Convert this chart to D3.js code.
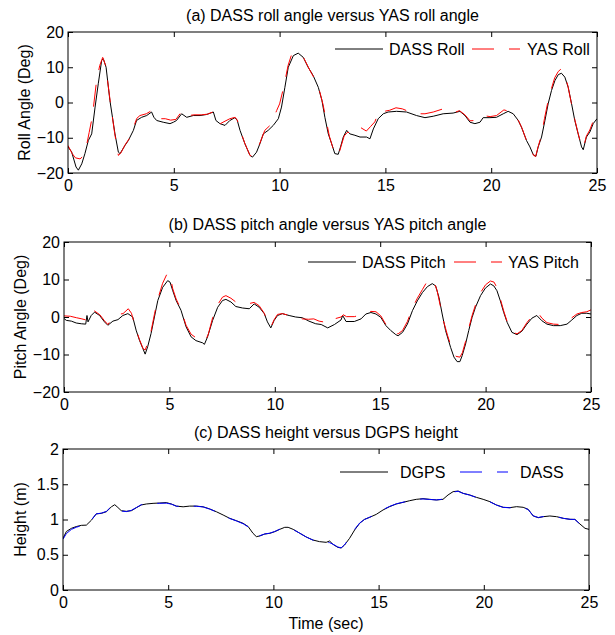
<!DOCTYPE html>
<html lang="en">
<head>
  <meta charset="UTF-8">
  <title>DASS vs YAS / DGPS</title>
  <script src="https://d3js.org/d3.v7.min.js"></script>
  <style>
    body { margin: 0; background: #fff; }
    svg text { font-family: "Liberation Sans", Arial, sans-serif; fill: #000; }
    .tick text { font-size: 16px; }
    .tick line { stroke: #000; }
  </style>
</head>
<body>
  <svg width="615" height="635"></svg>

  <script>
    // ---- data (time in sec, value) ----
    const timeTicks = [0, 5, 10, 15, 20, 25];
    const angleTicks = [-20, -10, 0, 10, 20];
    const heightTicks = [0, 0.5, 1, 1.5, 2];

    const dassRoll = [[0,-12.6],[0.17,-14],[0.38,-18.3],[0.49,-19.2],[0.65,-17.4],[0.8,-14.5],[0.96,-10.8],[1.12,-8.9],[1.28,-1.3],[1.43,5.3],[1.59,11.9],[1.67,12.4],[1.8,10],[1.98,0.6],[2.22,-8.9],[2.38,-14.1],[2.46,-14.5],[2.69,-12.2],[2.85,-10.8],[3.09,-7.9],[3.24,-5.1],[3.48,-4.2],[3.72,-3.7],[3.95,-2.7],[4.06,-4.2],[4.19,-5.1],[4.5,-5.6],[4.82,-6],[4.98,-5.6],[5.13,-5.1],[5.37,-3.2],[5.61,-4.2],[5.92,-3.7],[6.24,-3.7],[6.55,-3.4],[6.87,-2.7],[6.99,-5.1],[7.18,-6],[7.42,-6.5],[7.65,-5.1],[7.89,-4.3],[8.0,-5.1],[8.13,-7.9],[8.36,-11.7],[8.6,-15],[8.72,-15.5],[8.91,-14.1],[9.07,-11.7],[9.23,-8.9],[9.46,-7.9],[9.7,-6.5],[9.94,-4.6],[10.09,-1.3],[10.25,4.3],[10.41,10],[10.65,13.3],[10.88,14],[11.12,12.8],[11.35,10],[11.59,7.6],[11.83,4.3],[12.0,0.6],[12.14,-4.2],[12.3,-8.9],[12.46,-11.7],[12.61,-14.5],[12.77,-14.7],[12.88,-12.6],[13.01,-9.8],[13.17,-7.9],[13.32,-8.9],[13.56,-9.3],[13.8,-9.8],[14.11,-9.8],[14.27,-10.3],[14.43,-7.5],[14.66,-4.6],[14.9,-3.2],[15.13,-2.7],[15.53,-2.5],[16.0,-2.7],[16.47,-3.7],[16.87,-4.3],[17.26,-3.9],[17.73,-3.2],[18.2,-3],[18.52,-2.5],[18.76,-3.7],[19.0,-5.6],[19.23,-6],[19.47,-5.6],[19.62,-4.3],[19.94,-4.3],[20.25,-4.2],[20.57,-3.2],[20.8,-2.5],[21.04,-3.2],[21.28,-5.1],[21.43,-7],[21.67,-10.8],[21.83,-12.6],[21.98,-14.7],[22.11,-15.3],[22.22,-12.6],[22.38,-9.8],[22.54,-5.1],[22.69,-0.4],[22.85,3.4],[23.01,6.2],[23.17,7.9],[23.32,8.3],[23.48,7.2],[23.64,4.3],[23.8,-0.4],[23.95,-5.1],[24.11,-8.9],[24.27,-12.6],[24.35,-13.4],[24.5,-9.8],[24.66,-8.4],[24.82,-6],[25,-4.6]];

    const yasRoll = [[0,-12.2],[0.2,-14.5],[0.35,-15.7],[0.57,-16],[0.7,-15.3],[0.85,-13],[1.0,-8.5],[1.15,-4],[1.35,6.2],[1.5,10.5],[1.64,12.8],[1.78,10.5],[1.98,1],[2.2,-8.5],[2.38,-15],[2.5,-14.3],[2.7,-12],[2.9,-10.2],[3.1,-7],[3.25,-4.5],[3.4,-3.7],[3.7,-3.2],[3.95,-2.3],[4.1,-3.8],[4.3,-4.6],[4.6,-4.6],[4.85,-5],[5.1,-4.8],[5.4,-2.3],[5.6,-3.8],[5.95,-3.5],[6.3,-3.5],[6.6,-3.3],[6.88,-2.6],[7.0,-4.8],[7.2,-6],[7.42,-5.3],[7.65,-4.6],[7.9,-4.2],[8.0,-5],[8.15,-8],[8.35,-11.5],[8.6,-15],[8.72,-15.3],[8.9,-14],[9.07,-11.5],[9.3,-7.9],[9.55,-6.5],[9.7,-4.6],[9.86,-2.3],[10.0,-0.4],[10.2,4.5],[10.4,10.5],[10.55,13.3],[10.72,14.2],[10.9,14],[11.15,12.5],[11.4,9.5],[11.7,6.2],[11.9,3],[12.05,-0.5],[12.2,-5],[12.35,-9.5],[12.5,-12.5],[12.65,-15],[12.78,-15],[12.9,-12.5],[13.05,-9.5],[13.2,-8.5],[13.4,-8.5],[13.6,-8.6],[13.8,-7],[14.1,-8.1],[14.3,-6.8],[14.5,-5.5],[14.7,-2.3],[14.95,-2.5],[15.2,-2.2],[15.5,-1.5],[15.8,-1.8],[16.0,-2.3],[16.4,-3.2],[16.87,-3.2],[17.26,-2.7],[17.73,-1.8],[18.0,-2.5],[18.2,-3],[18.5,-2.3],[18.76,-3.5],[19.0,-5.2],[19.23,-5.1],[19.45,-4.6],[19.6,-3.7],[19.95,-4],[20.25,-3.7],[20.6,-2.1],[20.85,-2.5],[21.05,-3.2],[21.3,-5.3],[21.45,-7.2],[21.65,-10.5],[21.85,-13],[22.0,-15],[22.1,-15.3],[22.22,-12.5],[22.38,-9.2],[22.52,-4.5],[22.68,0.2],[22.85,4],[23.0,7],[23.17,8.8],[23.3,9.5],[23.45,8.3],[23.62,4.8],[23.78,0],[23.95,-4.8],[24.1,-8.6],[24.27,-12.5],[24.35,-13],[24.5,-9.5],[24.66,-7.8],[24.82,-5.3],[25,-4]];

    const dassPitch = [[0,-0.4],[0.11,-0.9],[0.35,-1.1],[0.58,-1.6],[0.82,-1.8],[1.03,-1.9],[1.09,0.4],[1.14,-1.3],[1.29,0.4],[1.45,1.3],[1.69,0.4],[1.92,-1.3],[2.08,-2.2],[2.32,-1.1],[2.56,-0.7],[2.79,0.4],[3.03,0.9],[3.26,0],[3.42,-3.5],[3.58,-6.2],[3.74,-8.4],[3.85,-9.9],[3.97,-7.9],[4.13,-4.4],[4.29,0],[4.45,4.4],[4.68,7.9],[4.92,9.7],[5.03,9.3],[5.16,7],[5.32,4.4],[5.55,1.8],[5.79,-2.6],[6.03,-5.3],[6.26,-6.3],[6.58,-6.9],[6.66,-7.3],[6.81,-5.3],[7.05,-0.9],[7.29,2.6],[7.52,4.4],[7.68,4.7],[7.92,4],[8.15,2.8],[8.47,2.4],[8.79,2.2],[9.02,3.5],[9.26,2.6],[9.5,0.9],[9.65,-1.3],[9.81,-2.9],[9.97,-0.9],[10.13,0.4],[10.36,0.9],[10.68,0.4],[10.99,0],[11.31,-0.2],[11.62,-1.1],[11.94,-1.8],[12.2,-2],[12.51,-2.9],[12.83,-2],[13.14,-0.8],[13.22,0.4],[13.38,-1.2],[13.77,-1.2],[14.09,-0.5],[14.32,0.8],[14.56,1.2],[14.8,0.8],[15.03,-0.1],[15.27,-2.3],[15.5,-3.6],[15.74,-4.7],[15.85,-5],[16.06,-4.1],[16.29,-1.9],[16.53,1.7],[16.76,4.3],[17.0,6.5],[17.24,8.1],[17.47,8.9],[17.63,8.3],[17.79,5.2],[17.94,0.8],[18.1,-3.6],[18.34,-8.1],[18.5,-10.7],[18.65,-11.9],[18.78,-11.9],[18.89,-10.3],[19.05,-7.2],[19.2,-3.6],[19.36,-0.1],[19.52,2.6],[19.76,5.7],[19.99,7.7],[20.23,8.8],[20.39,8.3],[20.54,7],[20.7,4.3],[20.86,1.2],[21.02,-1.4],[21.25,-4.1],[21.49,-4.7],[21.72,-3.8],[21.96,-1.9],[22.2,-0.3],[22.43,0.4],[22.67,-1],[22.91,-1.9],[23.22,-2.3],[23.54,-2.3],[23.86,-1.9],[24.09,-0.8],[24.33,0.4],[24.56,1],[24.8,1],[25,0.8]];

    const yasPitch = [[0,0.3],[0.3,0.2],[0.6,-0.2],[0.85,-0.5],[1.05,-0.8],[1.2,0.5],[1.3,1.9],[1.45,1.6],[1.7,0.6],[1.92,-1],[2.08,-2],[2.3,-0.3],[2.56,0.7],[2.8,0.9],[3.05,2.2],[3.2,1],[3.4,-3],[3.58,-6],[3.75,-8.4],[3.85,-8.8],[3.97,-7],[4.13,-3.8],[4.3,1],[4.45,4.8],[4.68,9],[4.92,11.9],[5.05,10.5],[5.16,7.5],[5.32,4.8],[5.55,2],[5.79,-2.2],[6.03,-4.6],[6.25,-5.5],[6.58,-6],[6.7,-6.5],[6.85,-4.5],[7.05,-0.2],[7.29,3.3],[7.52,5.3],[7.68,5.7],[7.92,5],[8.15,4],[8.5,3.7],[8.8,3.6],[9.02,3.9],[9.26,3],[9.5,1],[9.65,-1],[9.81,-2.7],[9.97,-0.7],[10.13,0.7],[10.36,0.9],[10.68,0.4],[11.0,0.1],[11.3,-0.5],[11.6,-0.6],[11.85,-0.5],[12.1,-1.1],[12.4,-1.4],[12.6,-1.8],[12.83,-0.5],[13.14,0],[13.25,0.6],[13.4,0.1],[13.77,0.1],[14.09,0.5],[14.32,1.2],[14.56,1.5],[14.8,1.4],[15.03,0.3],[15.27,-2],[15.5,-3.4],[15.74,-4.3],[15.85,-4.5],[16.06,-3.6],[16.29,-1.2],[16.53,2.4],[16.76,5],[17.0,7.3],[17.24,9.6],[17.4,10.2],[17.55,9.5],[17.7,7],[17.85,3],[18.0,-1],[18.2,-5],[18.4,-8.5],[18.6,-10.5],[18.78,-10.7],[18.9,-9.5],[19.05,-6.5],[19.2,-3],[19.36,0.4],[19.52,3.2],[19.76,6.5],[20.0,8.6],[20.23,9.6],[20.4,9.3],[20.54,7.8],[20.7,4.8],[20.86,1.6],[21.02,-1.2],[21.25,-4],[21.49,-4.5],[21.72,-3.6],[21.96,-1.5],[22.2,0.2],[22.45,1.4],[22.67,-0.3],[22.91,-1.5],[23.22,-1.9],[23.54,-2],[23.86,-0.8],[24.09,-0.2],[24.33,0.8],[24.56,1.2],[24.8,1.4],[25,1.9]];

    const dgpsHeight = [[0,0.733],[0.16,0.83],[0.4,0.875],[0.63,0.9],[0.87,0.917],[1.11,0.92],[1.35,0.99],[1.58,1.08],[1.82,1.087],[2.06,1.11],[2.3,1.18],[2.46,1.21],[2.61,1.17],[2.77,1.125],[3.01,1.116],[3.25,1.125],[3.49,1.168],[3.72,1.206],[3.96,1.22],[4.28,1.229],[4.6,1.234],[4.91,1.24],[5.15,1.22],[5.39,1.19],[5.71,1.18],[6.02,1.19],[6.34,1.19],[6.66,1.18],[6.97,1.15],[7.29,1.11],[7.61,1.064],[7.92,1.017],[8.24,0.983],[8.56,0.946],[8.8,0.9],[9.03,0.804],[9.19,0.757],[9.35,0.766],[9.59,0.794],[9.83,0.804],[10.06,0.827],[10.3,0.86],[10.54,0.889],[10.7,0.889],[10.94,0.86],[11.25,0.806],[11.56,0.752],[11.88,0.709],[12.19,0.686],[12.51,0.676],[12.67,0.695],[12.83,0.648],[13.06,0.605],[13.22,0.596],[13.38,0.638],[13.62,0.733],[13.86,0.851],[14.1,0.946],[14.33,1.002],[14.57,1.03],[14.89,1.073],[15.21,1.135],[15.52,1.182],[15.84,1.22],[16.16,1.243],[16.48,1.267],[16.79,1.286],[17.11,1.295],[17.43,1.286],[17.75,1.277],[18.06,1.286],[18.3,1.348],[18.54,1.395],[18.78,1.404],[19.02,1.371],[19.33,1.348],[19.65,1.314],[19.97,1.286],[20.29,1.253],[20.6,1.206],[20.92,1.173],[21.24,1.168],[21.56,1.182],[21.87,1.173],[22.11,1.144],[22.35,1.05],[22.59,1.026],[22.83,1.04],[23.14,1.05],[23.46,1.04],[23.78,1.017],[24.1,1.002],[24.33,1.002],[24.57,0.936],[24.81,0.875],[25,0.86]];

    const dassHeight = [[0,0.72],[0.16,0.8],[0.4,0.86],[0.63,0.89],[0.87,0.912],[1.11,0.925],[1.35,0.995],[1.58,1.08],[1.82,1.09],[2.06,1.115],[2.3,1.185],[2.46,1.2],[2.61,1.165],[2.77,1.12],[3.01,1.112],[3.25,1.13],[3.49,1.17],[3.72,1.21],[3.96,1.222],[4.28,1.228],[4.6,1.23],[4.91,1.232],[5.15,1.218],[5.39,1.188],[5.71,1.182],[6.02,1.192],[6.34,1.188],[6.66,1.178],[6.97,1.148],[7.29,1.108],[7.61,1.062],[7.92,1.015],[8.24,0.98],[8.56,0.94],[8.8,0.895],[9.03,0.81],[9.19,0.765],[9.35,0.77],[9.59,0.795],[9.83,0.806],[10.06,0.83],[10.3,0.862],[10.54,0.888],[10.7,0.886],[10.94,0.858],[11.25,0.806],[11.56,0.752],[11.88,0.707],[12.19,0.684],[12.51,0.672],[12.67,0.672],[12.83,0.65],[13.06,0.61],[13.22,0.598],[13.38,0.64],[13.62,0.74],[13.86,0.86],[14.1,0.95],[14.33,1.0],[14.57,1.032],[14.89,1.075],[15.21,1.14],[15.52,1.185],[15.84,1.222],[16.16,1.245],[16.48,1.266],[16.79,1.284],[17.11,1.292],[17.43,1.284],[17.75,1.278],[18.06,1.288],[18.3,1.345],[18.54,1.39],[18.78,1.4],[19.02,1.37],[19.33,1.346],[19.65,1.312],[19.97,1.284],[20.29,1.25],[20.6,1.205],[20.92,1.172],[21.24,1.166],[21.56,1.18],[21.87,1.172],[22.11,1.14],[22.35,1.052],[22.59,1.028],[22.83,1.042],[23.14,1.05],[23.46,1.04],[23.78,1.016],[24.1,1.003],[24.33,1.0],[24.57,0.935],[24.81,0.876],[25,0.86]];

    const svg = d3.select("svg");

    // one subplot: box, inward ticks on all four sides, title, ylabel
    function drawPanel(p) {
      let x = d3.scaleLinear().domain([0, 25]).range([p.left, p.right]);
      let y = d3.scaleLinear().domain(p.yDomain).range([p.bottom, p.top]);

      svg.append("g").attr("transform", `translate(0,${p.bottom})`)
        .call(d3.axisBottom(x).tickValues(timeTicks).tickSizeInner(-5).tickSizeOuter(0).tickPadding(5))
        .call(g => g.select(".domain").remove())
        .call(g => g.selectAll("text").attr("dy", "0.8em"));
      svg.append("g").attr("transform", `translate(0,${p.top})`)
        .call(d3.axisTop(x).tickValues(timeTicks).tickSizeInner(-5).tickSizeOuter(0).tickFormat(""))
        .call(g => g.select(".domain").remove());
      svg.append("g").attr("transform", `translate(${p.left},0)`)
        .call(d3.axisLeft(y).tickValues(p.yTicks).tickSizeInner(-5).tickSizeOuter(0).tickPadding(4).tickFormat(d3.format("")))
        .call(g => g.select(".domain").remove());
      svg.append("g").attr("transform", `translate(${p.right},0)`)
        .call(d3.axisRight(y).tickValues(p.yTicks).tickSizeInner(-5).tickSizeOuter(0).tickFormat(""))
        .call(g => g.select(".domain").remove());

      svg.append("defs").append("clipPath").attr("id", p.id)
        .append("rect").attr("x", p.left).attr("y", p.top)
        .attr("width", p.right - p.left).attr("height", p.bottom - p.top);

      let line = d3.line().x(d => x(d[0])).y(d => y(d[1]));
      p.series.forEach(s => {
        svg.append("path").datum(s.data)
          .attr("clip-path", `url(#${p.id})`)
          .attr("d", line)
          .attr("fill", "none")
          .attr("stroke", s.color)
          .attr("stroke-width", 1)
          .attr("stroke-dasharray", s.dash || null);
      });

      svg.append("rect")
        .attr("x", p.left).attr("y", p.top)
        .attr("width", p.right - p.left).attr("height", p.bottom - p.top)
        .attr("fill", "none").attr("stroke", "#000").attr("stroke-width", 1);

      svg.append("text")
        .attr("x", (p.left + p.right) / 2).attr("y", p.titleY)
        .attr("text-anchor", "middle").attr("font-size", 16)
        .text(p.title);

      svg.append("text")
        .attr("transform", `translate(${p.labelX},${(p.top + p.bottom) / 2}) rotate(-90)`)
        .attr("text-anchor", "middle").attr("font-size", 16)
        .text(p.ylabel);

      // legend, no box
      p.series.forEach((s, i) => {
        let lx = p.legend[i];
        svg.append("line")
          .attr("x1", lx).attr("x2", lx + 48)
          .attr("y1", p.legendY).attr("y2", p.legendY)
          .attr("stroke", s.color).attr("stroke-width", 1)
          .attr("stroke-dasharray", s.dash || null);
        svg.append("text")
          .attr("x", lx + s.textGap).attr("y", p.legendY + 6)
          .attr("font-size", 16)
          .text(s.name);
      });
    }

    drawPanel({
      id: "clipA", left: 68, right: 597, top: 32, bottom: 173,
      yDomain: [-20, 20], yTicks: angleTicks,
      title: "(a) DASS roll angle versus YAS roll angle", titleY: 21,
      ylabel: "Roll Angle (Deg)", labelX: 30,
      legend: [335, 472], legendY: 49,
      series: [
        { name: "DASS Roll", data: dassRoll, color: "#000", textGap: 54 },
        { name: "YAS Roll", data: yasRoll, color: "#ff0000", dash: "22,15", textGap: 55 }
      ]
    });

    drawPanel({
      id: "clipB", left: 64, right: 591, top: 242, bottom: 392,
      yDomain: [-20, 20], yTicks: angleTicks,
      title: "(b) DASS pitch angle versus YAS pitch angle", titleY: 230,
      ylabel: "Pitch Angle (Deg)", labelX: 26,
      legend: [308, 454], legendY: 262,
      series: [
        { name: "DASS Pitch", data: dassPitch, color: "#000", textGap: 54 },
        { name: "YAS Pitch", data: yasPitch, color: "#ff0000", dash: "22,15", textGap: 54 }
      ]
    });

    drawPanel({
      id: "clipC", left: 63, right: 589, top: 449, bottom: 590,
      yDomain: [0, 2], yTicks: heightTicks,
      title: "(c) DASS height versus DGPS height", titleY: 438,
      ylabel: "Height (m)", labelX: 26,
      legend: [340, 460], legendY: 472,
      series: [
        { name: "DGPS", data: dgpsHeight, color: "#000", textGap: 60 },
        { name: "DASS", data: dassHeight, color: "#0000ff", dash: "22,15", textGap: 60 }
      ]
    });

    svg.append("text")
      .attr("x", 326).attr("y", 629)
      .attr("text-anchor", "middle").attr("font-size", 16)
      .text("Time (sec)");
  </script>
</body>
</html>
